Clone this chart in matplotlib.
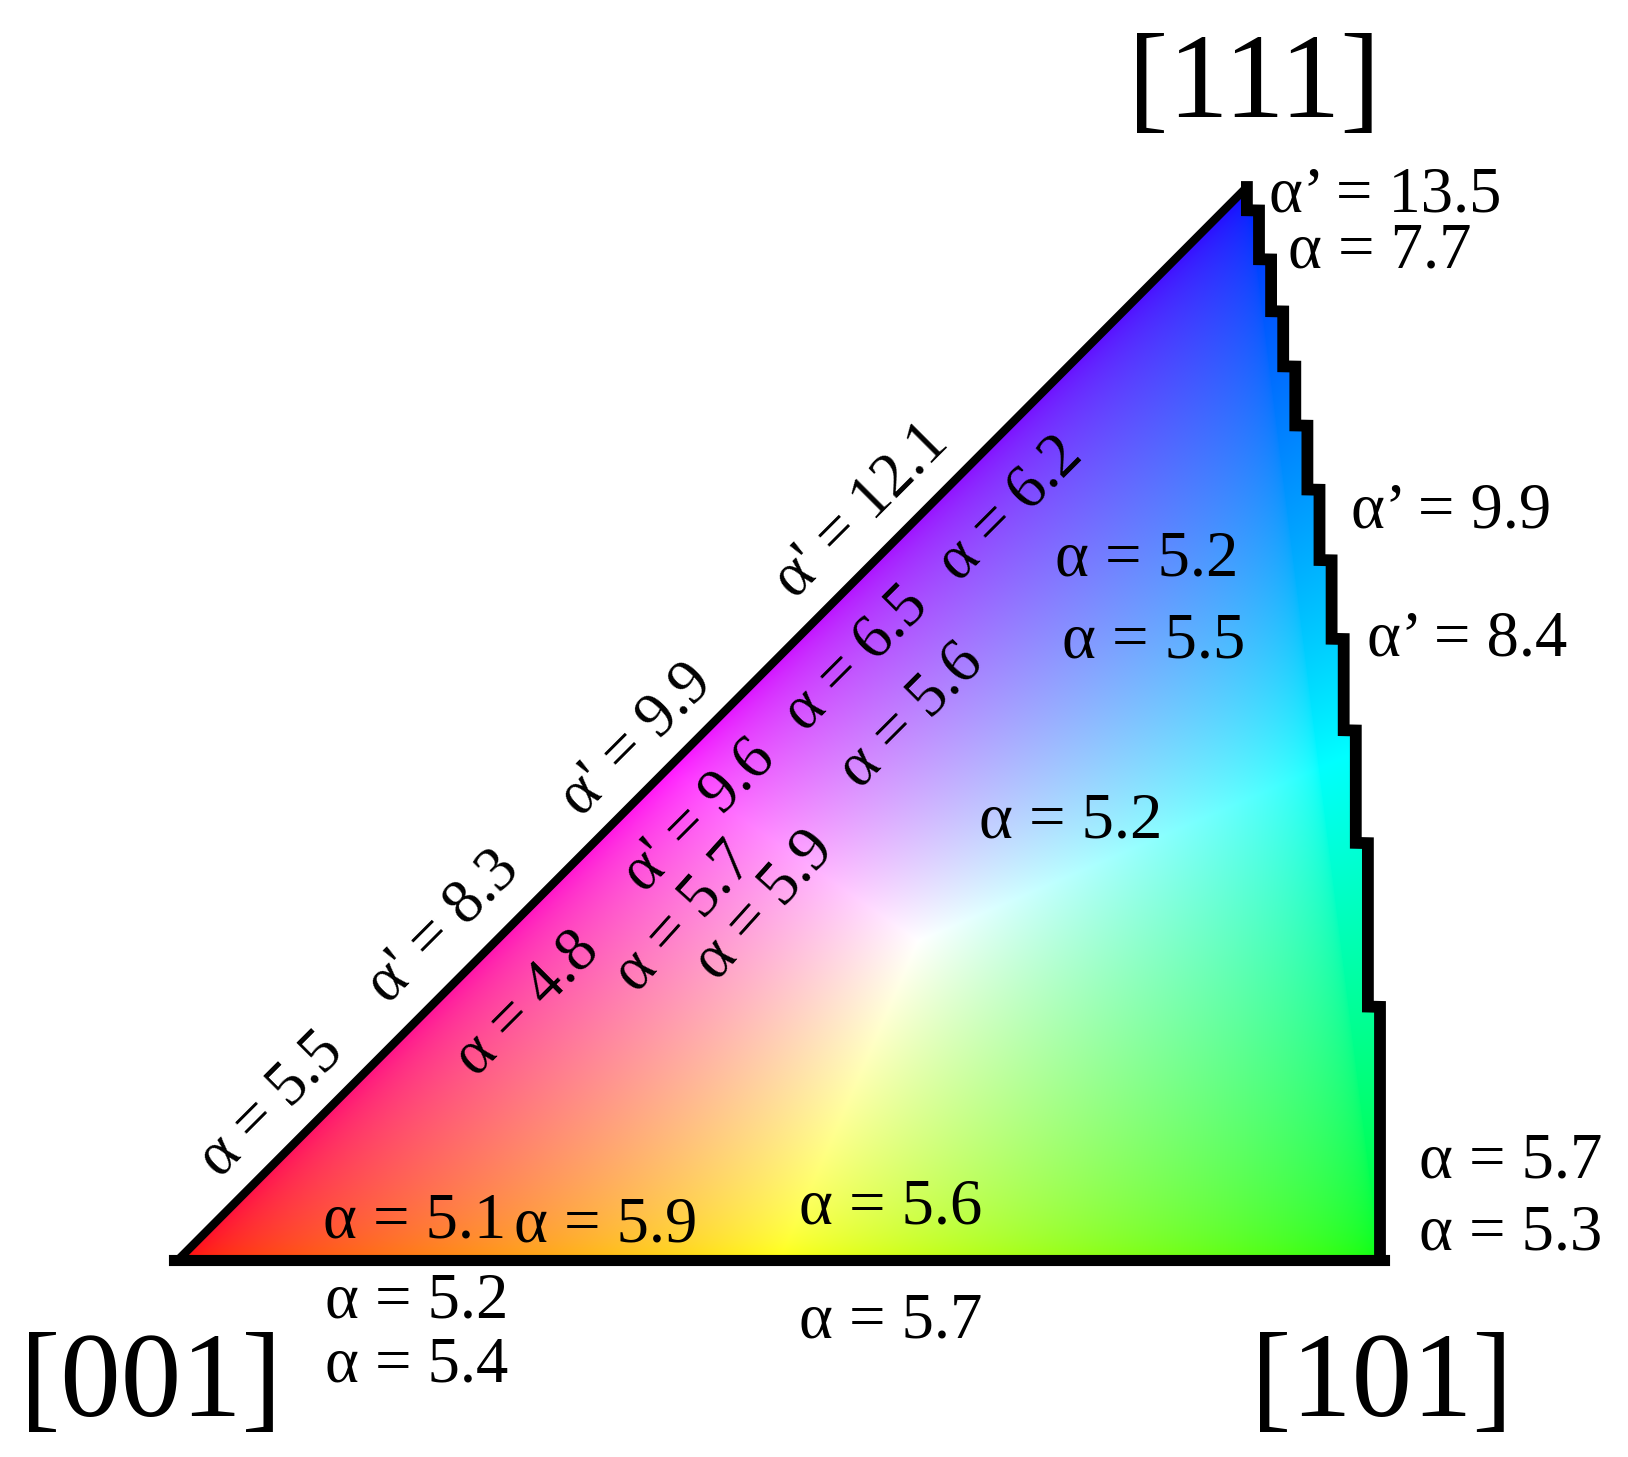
import numpy as np
import matplotlib.pyplot as plt

W, H = 1628, 1457

# corner poles of the standard triangle
corner_names = ['[001]', '[101]', '[111]']

# horizontal labels: symbol and value
h_sym = ['α’', 'α', 'α’', 'α’', 'α', 'α', 'α', 'α', 'α', 'α', 'α', 'α', 'α', 'α', 'α']
h_val = ['13.5', '7.7', '9.9', '8.4', '5.2', '5.5', '5.2', '5.1', '5.9', '5.6', '5.7', '5.2', '5.4', '5.7', '5.3']

# labels written along the [001]-[111] edge
r_sym = ['α', "α'", "α'", "α'", 'α', "α'", 'α', 'α', 'α', 'α', 'α']
r_val = ['5.5', '8.3', '9.9', '12.1', '4.8', '9.6', '6.5', '6.2', '5.7', '5.9', '5.6']

# layout (pixel coords)
corner_pos = [(151, 1416), (1382, 1416), (1254, 117)]
h_pos = [(1385, 212), (1380, 268), (1451, 527), (1467, 656), (1147, 575), (1154, 657),
         (1071, 837), (415, 1238), (606, 1242), (891, 1223), (891, 1337), (417, 1318),
         (417, 1381), (1511, 1178), (1511, 1250)]
r_pos = [(272, 1105), (444, 927), (637, 740), (862, 511), (528, 1004), (700, 816),
         (857, 659), (1011, 509), (685, 918), (765, 906), (912, 716)]
r_ang = [45, 45, 45, 45, 45, 45, 45, 45, 48, 48, 45]

A = np.array([178.0, 1260.0])   # [001]
B = np.array([1380.0, 1260.0])  # [101]
C = np.array([1247.0, 187.0])   # [111]

# stereographic -> pixel (affine through the three corners)
Xb = np.tan(np.pi / 8)
Xc = 1 / (np.sqrt(3) + 1)
sx = (B[0] - A[0]) / Xb
sy = (A[1] - C[1]) / Xc
shx = (C[0] - A[0] - Xc * sx) / Xc

# [101]-[111] arc, drawn as a coarse staircase like the raster original
t = np.linspace(0, 1, 4000)
n = np.sqrt(2 + t ** 2)
X = 1 / (n + 1)
Y = t / (n + 1)
px = A[0] + X * sx + Y * shx
py = A[1] - Y * sy
step = 12.1
pxq = B[0] - step * np.round((B[0] - px) / step)

# colour key
yy, xx = np.mgrid[0:H, 0:W] + 0.5
det = (B[1] - C[1]) * (A[0] - C[0]) + (C[0] - B[0]) * (A[1] - C[1])
lA = ((B[1] - C[1]) * (xx - C[0]) + (C[0] - B[0]) * (yy - C[1])) / det
lB = ((C[1] - A[1]) * (xx - C[0]) + (A[0] - C[0]) * (yy - C[1])) / det
lC = 1 - lA - lB
rgb = np.stack([np.clip(lA, 0, None), np.clip(lB, 0, None), 1.18 * np.clip(lC, 0, None)], axis=-1)
rgb = rgb / np.maximum(rgb.max(axis=-1, keepdims=True), 1e-9)
rgb = np.sqrt(rgb)

xr = np.interp(yy, py[::-1], pxq[::-1])
mask = (yy <= A[1]) & (yy >= C[1]) & (lB >= 0) & (xx <= xr)
img = np.zeros((H, W, 4))
img[..., :3] = rgb
img[..., 3] = mask.astype(float)

fig = plt.figure(figsize=(W / 100, H / 100), dpi=100)
ax = fig.add_axes([0, 0, 1, 1])
ax.imshow(img, extent=(0, W, H, 0), interpolation='bilinear')

ax.plot([A[0], C[0]], [A[1], C[1]], color='black', lw=6, solid_capstyle='round')
ax.plot([A[0] - 4, B[0] + 4], [A[1], B[1]], color='black', lw=8)
ax.plot(pxq, py, color='black', lw=8.5, solid_joinstyle='miter')

font = 'Liberation Serif'
for name, (x, y) in zip(corner_names, corner_pos):
    ax.text(x, y, name, fontsize=87, family=font, ha='center', va='baseline')

for s, v, (x, y) in zip(h_sym, h_val, h_pos):
    ax.text(x, y, f'{s} = {v}', fontsize=46.5, family=font, ha='center', va='baseline')

for s, v, (x, y), a in zip(r_sym, r_val, r_pos, r_ang):
    ax.text(x, y, f'{s} = {v}', fontsize=45, family=font, ha='center', va='center',
            rotation=a, rotation_mode='anchor')

ax.set_xlim(0, W)
ax.set_ylim(H, 0)
ax.axis('off')
fig.savefig('out.png', dpi=100, facecolor='white')
